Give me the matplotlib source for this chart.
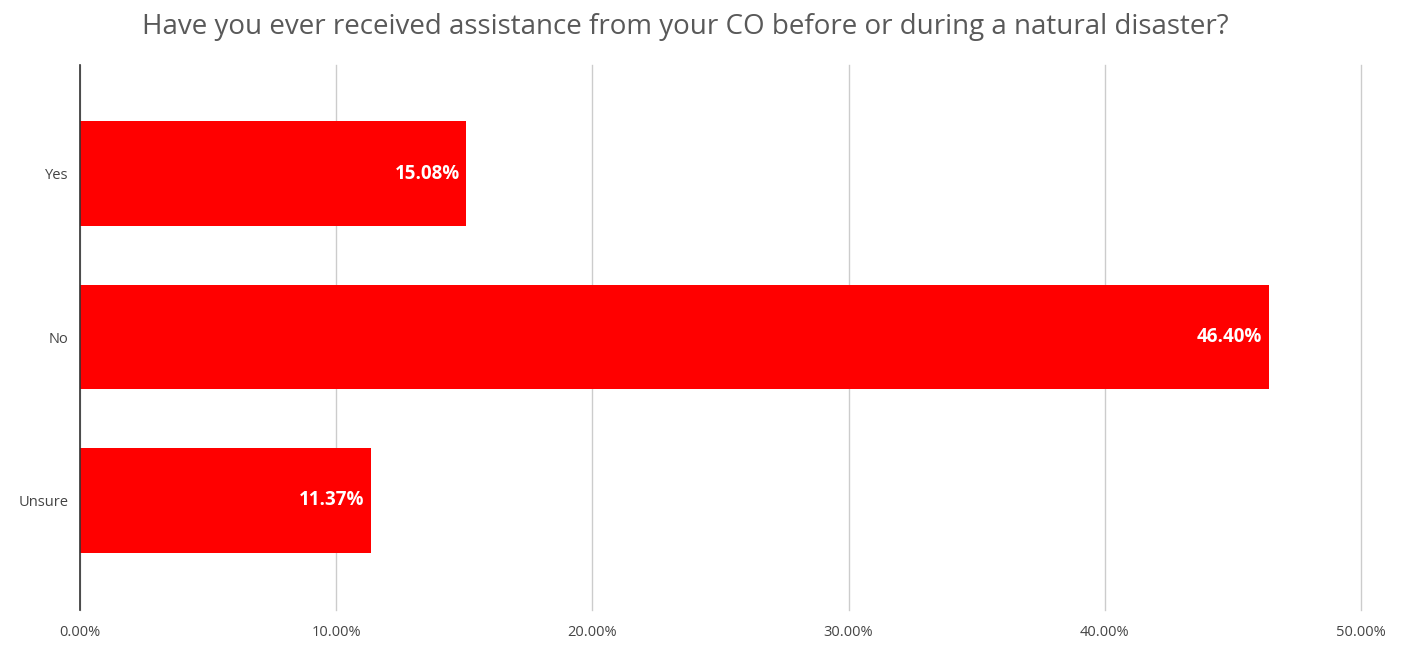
import matplotlib.pyplot as plt
from matplotlib.ticker import FuncFormatter

categories = ["Yes", "No", "Unsure"]
values = [15.08, 46.40, 11.37]
ticks = [0, 10, 20, 30, 40, 50]

plt.rcParams["font.family"] = ["Open Sans", "DejaVu Sans"]

fig = plt.figure(figsize=(14.1, 6.46), dpi=100)
ax = fig.add_axes([0.0567, 0.0557, 0.9085, 0.8437])

y = list(range(len(categories)))
ax.barh(y, values, height=0.64, color="#ff0000", zorder=3)

for yi, v in zip(y, values):
    ax.text(v - 0.25, yi, f"{v:.2f}%", color="white", fontsize=13.5,
            fontweight="bold", ha="right", va="center", zorder=4)

ax.set_xlim(0, 50)
ax.set_ylim(2.67, -0.664)
ax.set_xticks(ticks)
ax.xaxis.set_major_formatter(FuncFormatter(lambda x, _: f"{x:.2f}%"))
ax.set_yticks(y)
ax.set_yticklabels(categories)
ax.tick_params(axis="both", length=0, labelsize=10.5, labelcolor="#444444")
ax.tick_params(axis="x", pad=11)
ax.tick_params(axis="y", pad=8)

ax.grid(axis="x", color="#cccccc", linewidth=1, zorder=0)
for line in ax.get_xgridlines():
    line.set_clip_on(False)
for s in ["top", "right", "bottom"]:
    ax.spines[s].set_visible(False)
ax.spines["left"].set_color("#333333")
ax.spines["left"].set_linewidth(1.2)
ax.spines["left"].set_zorder(5)

fig.text(0.486, 0.958, "Have you ever received assistance from your CO before or during a natural disaster?",
         ha="center", va="center", fontsize=20, color="#595959")

fig.savefig("out.png", dpi=100)
